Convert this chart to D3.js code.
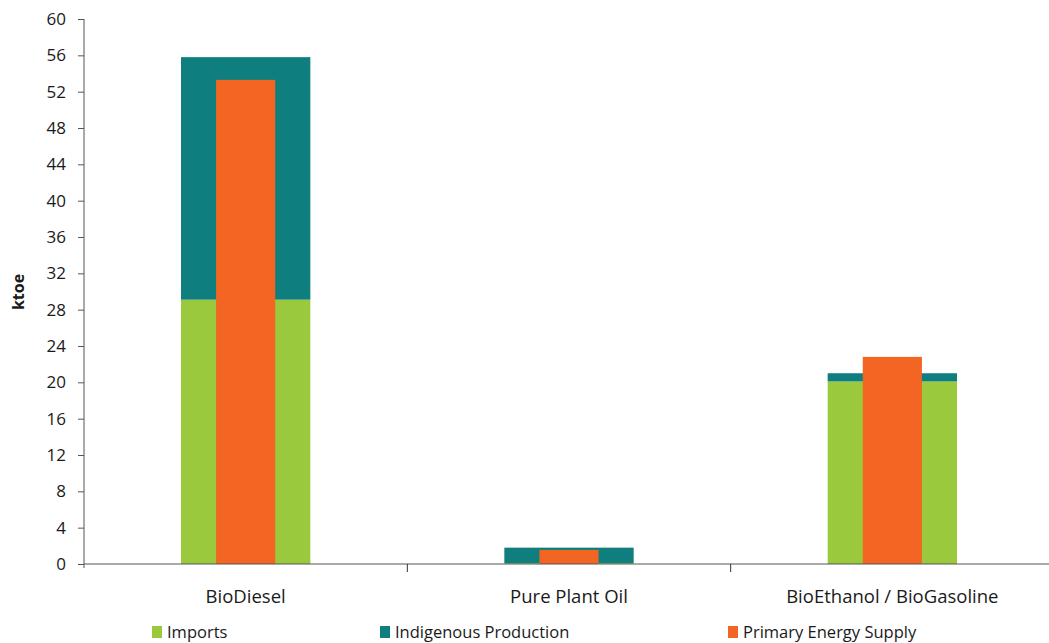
<!DOCTYPE html>
<html>
<head>
<meta charset="utf-8">
<script src="https://cdn.jsdelivr.net/npm/d3@7"></script>
<style>
  html, body { margin: 0; padding: 0; background: #fff; }
  svg { display: block; }
  text { font-family: "Open Sans", "Noto Sans", sans-serif; fill: #1a1a1a; }
</style>
</head>
<body>
<svg id="chart" width="1049" height="643"></svg>
<script>
// Biofuel balance (ktoe)
const categories = ["BioDiesel", "Pure Plant Oil", "BioEthanol / BioGasoline"];
const imports = [29.1, 0.1, 20.1];
const indigenousProduction = [26.7, 1.7, 0.9];
const primaryEnergySupply = [53.3, 1.55, 22.8];
const yTicks = [0, 4, 8, 12, 16, 20, 24, 28, 32, 36, 40, 44, 48, 52, 56, 60];
const seriesNames = ["Imports", "Indigenous Production", "Primary Energy Supply"];
const colors = ["#9BC93D", "#0E7F7E", "#F26522"];

const svg = d3.select("#chart");
const plotLeft = 84, plotRight = 1054, plotTop = 19, plotBottom = 564;

const x = d3.scaleBand().domain(categories).range([plotLeft, plotRight]).padding(0);
const y = d3.scaleLinear().domain([0, 60]).range([plotBottom, plotTop]);

const outerW = x.bandwidth() * 0.40;
const innerW = x.bandwidth() * 0.183;

// Stacked outer bars: imports at the bottom, indigenous production on top
const g = svg.append("g");
categories.forEach((c, i) => {
  const cx = x(c) + x.bandwidth() / 2;
  const base = imports[i];
  const total = base + indigenousProduction[i];
  g.append("rect")
    .attr("x", cx - outerW / 2).attr("width", outerW)
    .attr("y", y(base)).attr("height", y(0) - y(base))
    .attr("fill", colors[0]);
  g.append("rect")
    .attr("x", cx - outerW / 2).attr("width", outerW)
    .attr("y", y(total)).attr("height", y(base) - y(total))
    .attr("fill", colors[1]);
  // Narrow overlay bar for primary energy supply
  g.append("rect")
    .attr("x", cx - innerW / 2).attr("width", innerW)
    .attr("y", y(primaryEnergySupply[i])).attr("height", y(0) - y(primaryEnergySupply[i]))
    .attr("fill", colors[2]);
});

// Y axis
const yAxis = svg.append("g")
  .attr("transform", `translate(${plotLeft},0)`)
  .call(d3.axisLeft(y).tickValues(yTicks).tickSize(6).tickPadding(12).tickSizeOuter(0));
yAxis.select(".domain").attr("stroke", "#555").attr("d", `M0,${plotTop}V${plotBottom + 4}`);
yAxis.selectAll(".tick line").attr("stroke", "#555");
yAxis.selectAll(".tick text").attr("font-size", 17).attr("fill", "#1a1a1a");

// X axis with boundary ticks between categories
const xg = svg.append("g").attr("transform", `translate(0,${plotBottom})`);
xg.append("line").attr("x1", plotLeft).attr("x2", plotRight).attr("stroke", "#555").attr("stroke-width", 1.2);
const boundaries = categories.slice(1).map(c => x(c));
xg.selectAll(".bt").data(boundaries).enter().append("line")
  .attr("x1", d => d).attr("x2", d => d).attr("y1", 0).attr("y2", 8)
  .attr("stroke", "#333");
xg.selectAll(".cl").data(categories).enter().append("text")
  .attr("x", d => x(d) + x.bandwidth() / 2)
  .attr("y", 39)
  .attr("text-anchor", "middle")
  .attr("font-size", 18.5)
  .text(d => d);

// Y axis title
svg.append("text")
  .attr("transform", `translate(24,292) rotate(-90)`)
  .attr("text-anchor", "middle")
  .attr("font-size", 16)
  .attr("font-weight", "bold")
  .text("ktoe");

// Legend
const legendX = [152, 380, 728];
const leg = svg.append("g");
seriesNames.forEach((n, i) => {
  leg.append("rect").attr("x", legendX[i]).attr("y", 626).attr("width", 10).attr("height", 12).attr("fill", colors[i]);
  leg.append("text").attr("x", legendX[i] + 15).attr("y", 638).attr("font-size", 16.5).text(n);
});
</script>
</body>
</html>
